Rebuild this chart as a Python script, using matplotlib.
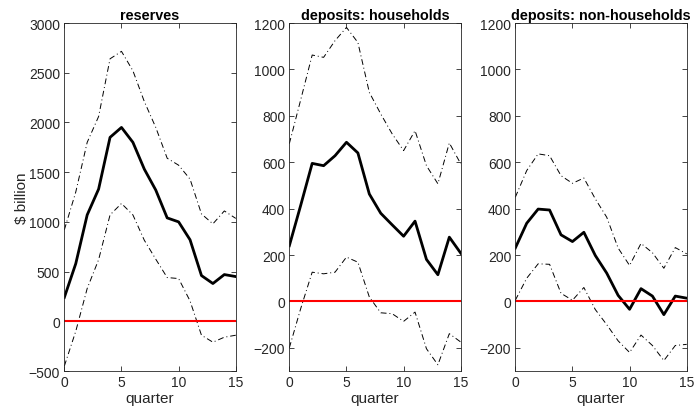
import matplotlib.pyplot as plt
import numpy as np

plt.rcParams['font.family'] = ['Liberation Sans', 'DejaVu Sans']

quarters = np.arange(16)

titles = ['reserves', 'deposits: households', 'deposits: non-households']

# impulse responses, $ billion: median and error bands
reserves_mid = [240, 580, 1070, 1330, 1850, 1950, 1800, 1530, 1320, 1040, 1000, 820, 460, 380, 470, 450]
reserves_hi = [920, 1300, 1800, 2060, 2640, 2715, 2520, 2210, 1950, 1640, 1570, 1430, 1080, 980, 1110, 1035]
reserves_lo = [-450, -100, 330, 620, 1070, 1185, 1070, 815, 625, 440, 430, 205, -140, -210, -160, -140]

hh_mid = [240, 415, 595, 585, 628, 686, 640, 463, 380, 330, 281, 346, 181, 115, 277, 208]
hh_hi = [680, 870, 1062, 1052, 1124, 1181, 1116, 901, 808, 722, 650, 736, 585, 507, 683, 593]
hh_lo = [-200, -30, 126, 119, 126, 191, 169, 19, -49, -53, -86, -46, -204, -273, -139, -175]

nonhh_mid = [230, 337, 398, 394, 287, 258, 298, 198, 122, 26, -34, 55, 23, -57, 23, 14]
nonhh_hi = [449, 564, 636, 628, 542, 509, 532, 442, 363, 230, 155, 250, 210, 143, 232, 205]
nonhh_lo = [5, 100, 162, 160, 35, 5, 60, -35, -100, -170, -220, -145, -190, -255, -190, -185]

ylims = [(-500, 3000), (-300, 1200), (-300, 1200)]
yticks = [np.arange(-500, 3001, 500), np.arange(-200, 1201, 200), np.arange(-200, 1201, 200)]
series = [(reserves_mid, reserves_hi, reserves_lo),
          (hh_mid, hh_hi, hh_lo),
          (nonhh_mid, nonhh_hi, nonhh_lo)]

fig = plt.figure(figsize=(6.94, 4.14), dpi=100)
lefts = [0.0927, 0.4169, 0.7425]
axc = '#262626'

for i in range(3):
    ax = fig.add_axes([lefts[i], 0.1014, 0.247, 0.8406])
    mid, hi, lo = series[i]
    ax.plot(quarters, hi, color='k', lw=0.7, ls=(0, (6, 3, 1, 3)))
    ax.plot(quarters, lo, color='k', lw=0.7, ls=(0, (6, 3, 1, 3)))
    ax.plot(quarters, mid, color='k', lw=2)
    ax.plot([0, 15], [0, 0], color='red', lw=1.5)
    ax.set_xlim(0, 15)
    ax.set_ylim(*ylims[i])
    ax.set_xticks([0, 5, 10, 15])
    ax.set_yticks(yticks[i])
    ax.tick_params(direction='in', top=True, right=True, length=3.5, width=0.6,
                   labelsize=10, colors=axc, pad=3)
    for s in ax.spines.values():
        s.set_color(axc)
        s.set_linewidth(0.6)
    ax.set_title(titles[i], fontsize=10.4, fontweight='bold', pad=3)
    ax.set_xlabel('quarter', fontsize=11, color=axc, labelpad=1)
    if i == 0:
        ax.set_ylabel('\\$ billion', fontsize=11, color=axc, labelpad=0)

plt.savefig('out.png', dpi=100)
